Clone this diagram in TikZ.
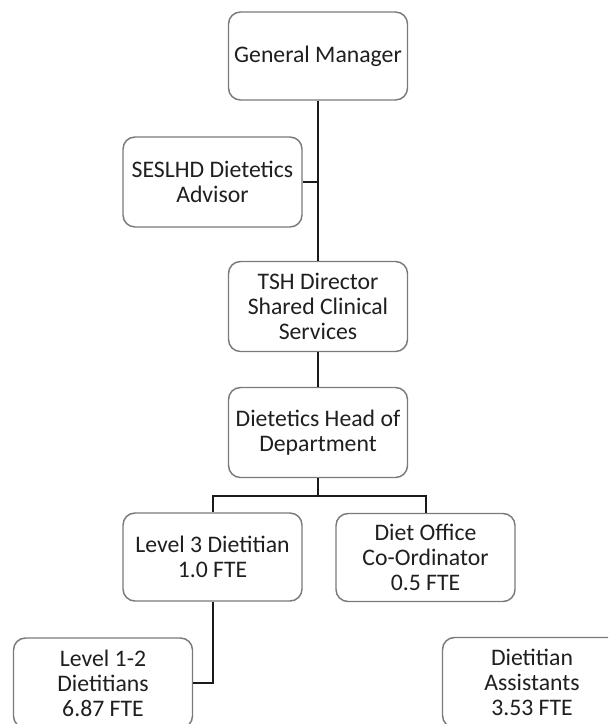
\documentclass[tikz,border=0pt]{standalone}
\usepackage{fontspec}
\setmainfont{Carlito}
\definecolor{boxline}{HTML}{7A7A7A}
\definecolor{txt}{HTML}{1F1F1F}
\definecolor{wire}{HTML}{1A1A1A}
\begin{document}
\begin{tikzpicture}[x=0.75pt,y=-0.75pt,
  unit/.style={draw=boxline,line width=1.1pt,rounded corners=9pt,fill=white,
    text=txt,align=center,inner sep=0pt,
    minimum width={179*0.75pt},minimum height={90*0.75pt},
    font=\fontsize{17.8}{18.75}\selectfont},
  wirestyle/.style={draw=wire,line width=1.5pt}]
\useasboundingbox (0,0) rectangle (608,724);
\clip (0,0) rectangle (608,724);
% boxes
\node[unit,minimum height={88*0.75pt}] (gm)  at (318,56)    {General Manager};
\node[unit] (ses) at (212.5,182) {SESLHD Dietetics\\Advisor};
\node[unit] (tsh) at (318,306.5) {TSH Director\\Shared Clinical\\Services};
\node[unit] (hod) at (318,432.5) {Dietetics Head of\\Department};
\node[unit,minimum height={88*0.75pt}] (l3)   at (212.5,557) {Level 3 Dietitian\\1.0 FTE};
\node[unit,minimum height={88*0.75pt}] (diet) at (425.5,557.5) {Diet Office\\Co-Ordinator\\0.5 FTE};
\node[unit] (l12) at (103,683)   {Level 1-2\\Dietitians\\6.87 FTE};
\node[unit] (da)  at (532,682.5) {Dietitian\\Assistants\\3.53 FTE};
% reporting lines
\coordinate (bus) at (318,496);
\draw[wirestyle] (gm.south) -- (tsh.north);
\draw[wirestyle] (ses.east) -- (ses.east -| gm.south);
\draw[wirestyle] (tsh.south) -- (hod.north);
\draw[wirestyle] (hod.south) -- (bus);
\draw[wirestyle] (l3.north) |- (bus) -| (diet.north);
\draw[wirestyle] (l3.south) |- (l12.east);
\end{tikzpicture}
\end{document}
